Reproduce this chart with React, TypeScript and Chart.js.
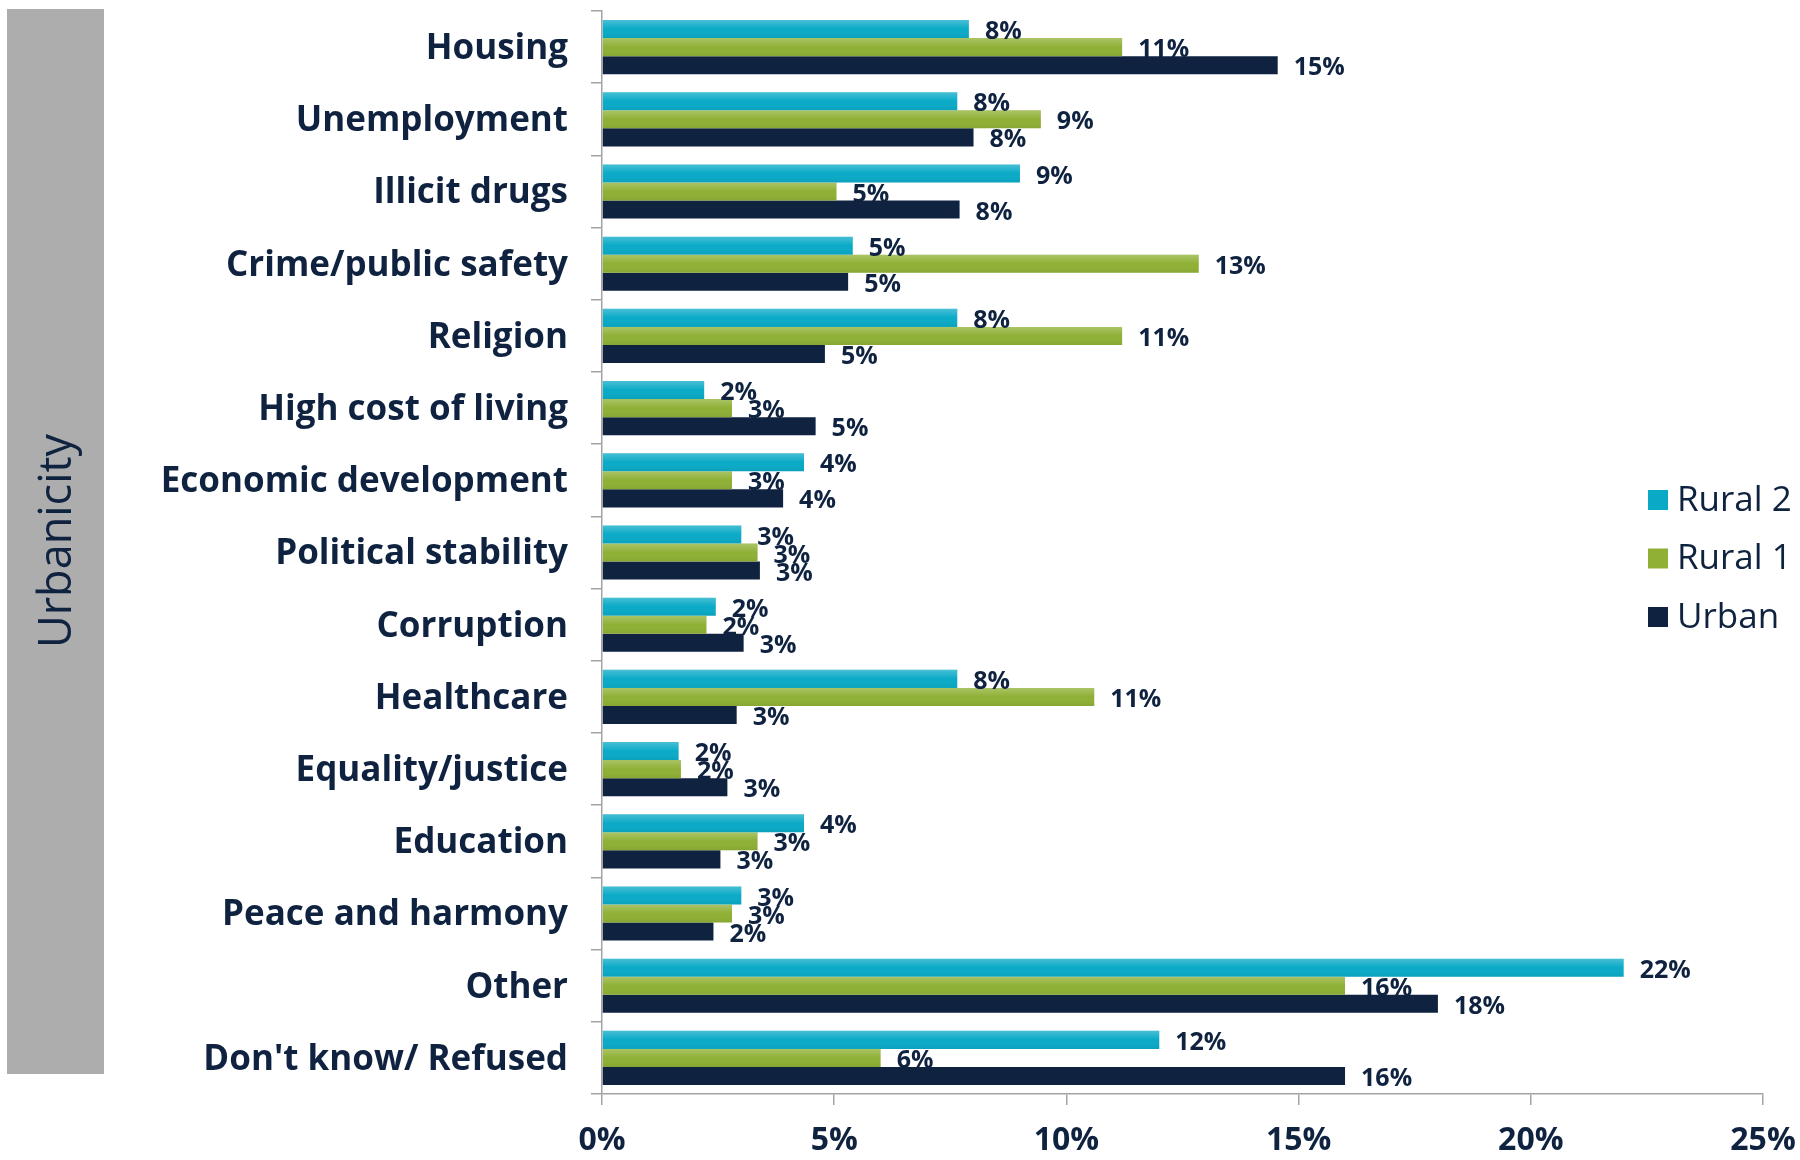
import React, { useEffect, useRef } from "react";
import { Chart, registerables } from "chart.js";

Chart.register(...registerables);

const categories = [
  "Housing",
  "Unemployment",
  "Illicit drugs",
  "Crime/public safety",
  "Religion",
  "High cost of living",
  "Economic development",
  "Political stability",
  "Corruption",
  "Healthcare",
  "Equality/justice",
  "Education",
  "Peace and harmony",
  "Other",
  "Don't know/ Refused",
];
const rural2 = [7.9, 7.65, 9.0, 5.4, 7.65, 2.2, 4.35, 3.0, 2.45, 7.65, 1.65, 4.35, 3.0, 22.0, 12.0];
const rural1 = [11.2, 9.45, 5.05, 12.85, 11.2, 2.8, 2.8, 3.35, 2.25, 10.6, 1.7, 3.35, 2.8, 16.0, 6.0];
const urban = [14.55, 8.0, 7.7, 5.3, 4.8, 4.6, 3.9, 3.4, 3.05, 2.9, 2.7, 2.55, 2.4, 18.0, 16.0];
const seriesNames = ["Rural 2", "Rural 1", "Urban"];
const xTicks = [0, 5, 10, 15, 20, 25];
const axisTitle = "Urbanicity";

const TEXT = "#0f2340";
const FONT = "'Open Sans', 'DejaVu Sans', sans-serif";
const COLORS = ["#0aaac7", "#8fb035", "#0f2240"];
const GRID = "#a3a3a3";

const sidePanel = {
  id: "sidePanel",
  beforeDraw(chart: any) {
    const ctx = chart.ctx;
    ctx.save();
    ctx.fillStyle = "#adadad";
    ctx.fillRect(7, 9, 97, 1065);
    ctx.translate(58, 541);
    ctx.rotate(-Math.PI / 2);
    ctx.fillStyle = TEXT;
    ctx.font = `45px ${FONT}`;
    ctx.textAlign = "center";
    ctx.textBaseline = "middle";
    ctx.fillText(axisTitle, 0, 0);
    ctx.restore();
  },
};

const barShade = {
  id: "barShade",
  afterDatasetsDraw(chart: any) {
    const ctx = chart.ctx;
    ctx.save();
    chart.data.datasets.forEach((ds: any, di: number) => {
      if (di === 2) return;
      const meta = chart.getDatasetMeta(di);
      meta.data.forEach((el: any) => {
        const p = el.getProps(["x", "y", "base", "height"], true);
        const top = p.y - p.height / 2;
        const g = ctx.createLinearGradient(0, top, 0, top + p.height);
        g.addColorStop(0, "rgba(255,255,255,0.25)");
        g.addColorStop(0.5, "rgba(255,255,255,0.0)");
        g.addColorStop(1, "rgba(0,0,0,0.06)");
        ctx.fillStyle = g;
        ctx.fillRect(p.base, top, p.x - p.base, p.height);
      });
    });
    ctx.restore();
  },
};

const valueLabels = {
  id: "valueLabels",
  afterDatasetsDraw(chart: any) {
    const ctx = chart.ctx;
    ctx.save();
    ctx.fillStyle = TEXT;
    ctx.font = `bold 25px ${FONT}`;
    ctx.textAlign = "left";
    ctx.textBaseline = "middle";
    chart.data.datasets.forEach((ds: any, di: number) => {
      const meta = chart.getDatasetMeta(di);
      meta.data.forEach((el: any, i: number) => {
        const p = el.getProps(["x", "y"], true);
        ctx.fillText(Math.round(ds.data[i]) + "%", p.x + 16, p.y + 3);
      });
    });
    ctx.restore();
  },
};

const sideLegend = {
  id: "sideLegend",
  afterDraw(chart: any) {
    const ctx = chart.ctx;
    ctx.save();
    ctx.font = `35px ${FONT}`;
    ctx.textBaseline = "middle";
    ctx.textAlign = "left";
    chart.data.datasets.forEach((ds: any, di: number) => {
      const cy = 500 + di * 58.5;
      ctx.fillStyle = ds.backgroundColor;
      ctx.fillRect(1648, cy - 10, 20, 20);
      ctx.fillStyle = TEXT;
      ctx.fillText(ds.label, 1677, cy + 1);
    });
    ctx.restore();
  },
};

export default function App() {
  const ref = useRef<HTMLCanvasElement>(null);
  useEffect(() => {
    document.body.style.margin = "0";
    const chart = new Chart(ref.current!, {
      type: "bar",
      data: {
        labels: categories,
        datasets: [
          { label: seriesNames[0], data: rural2, backgroundColor: COLORS[0] },
          { label: seriesNames[1], data: rural1, backgroundColor: COLORS[1] },
          { label: seriesNames[2], data: urban, backgroundColor: COLORS[2] },
        ],
      },
      options: {
        indexAxis: "y",
        animation: false,
        responsive: false,
        maintainAspectRatio: false,
        datasets: { bar: { categoryPercentage: 0.75, barPercentage: 1.0 } },
        layout: { padding: { left: 0, top: 11, right: 37, bottom: 0 } },
        plugins: { legend: { display: false }, tooltip: { enabled: false } },
        scales: {
          x: {
            min: 0,
            max: 25,
            afterBuildTicks(scale: any) {
              scale.ticks = xTicks.map((v) => ({ value: v }));
            },
            afterFit(scale: any) {
              scale.height = 66;
              scale.paddingLeft = 0;
              scale.paddingRight = 0;
            },
            grid: { drawOnChartArea: false, tickLength: 11, color: GRID, lineWidth: 1.5 },
            border: { color: GRID, width: 1.5 },
            ticks: {
              color: TEXT,
              font: { family: FONT, size: 32, weight: "bold" },
              padding: 17,
              callback: (v: any) => v + "%",
            },
          },
          y: {
            afterFit(scale: any) {
              scale.width = 602;
              scale.paddingTop = 0;
              scale.paddingBottom = 0;
            },
            grid: { drawOnChartArea: false, tickLength: 11, color: GRID, lineWidth: 1.5, offset: true },
            border: { color: GRID, width: 1.5 },
            ticks: {
              color: TEXT,
              font: { family: FONT, size: 35, weight: "bold" },
              padding: 23,
              labelOffset: 2,
            },
          },
        },
      },
      plugins: [sidePanel, barShade, valueLabels, sideLegend],
    });
    return () => chart.destroy();
  }, []);
  return (
    <div style={{ width: 1800, height: 1160 }}>
      <canvas ref={ref} width={1800} height={1160} style={{ display: "block" }} />
    </div>
  );
}
